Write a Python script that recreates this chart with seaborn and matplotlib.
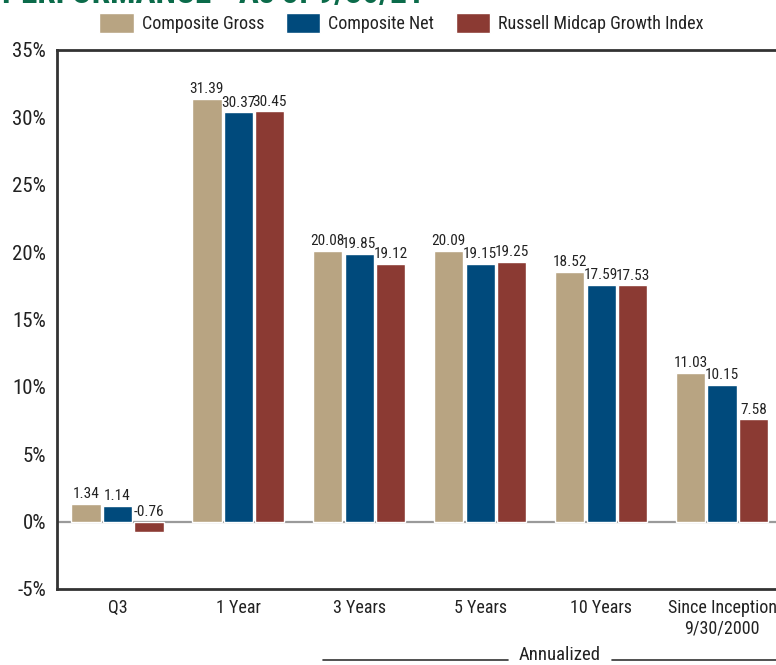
import matplotlib
matplotlib.use("Agg")
import matplotlib.pyplot as plt
import seaborn as sns
import pandas as pd
from matplotlib.lines import Line2D
from matplotlib import font_manager as fm

periods = ["Q3", "1 Year", "3 Years", "5 Years", "10 Years", "Since Inception\n9/30/2000"]
series = ["Composite Gross", "Composite Net", "Russell Midcap Growth Index"]
gross = [1.34, 31.39, 20.08, 20.09, 18.52, 11.03]
net = [1.14, 30.37, 19.85, 19.15, 17.59, 10.15]
russell = [-0.76, 30.45, 19.12, 19.25, 17.53, 7.58]
colors = ["#b8a482", "#004a7c", "#8b3a33"]
yticks = [-5, 0, 5, 10, 15, 20, 25, 30, 35]

rows = []
for s, vals in zip(series, [gross, net, russell]):
    for p, v in zip(periods, vals):
        rows.append({"period": p, "series": s, "value": v})
df = pd.DataFrame(rows)

sns.set_style("white")
names = {f.name for f in fm.fontManager.ttflist}
fam = None
for cand in ["Liberation Sans Narrow", "Roboto Condensed", "Open Sans Condensed", "DejaVu Sans Condensed"]:
    if cand in names:
        fam = cand
        break
if fam is None:
    fam = "DejaVu Sans"
    plt.rcParams["font.stretch"] = "condensed"
plt.rcParams["font.family"] = [fam, "DejaVu Sans"]

fig = plt.figure(figsize=(7.76, 6.65), dpi=100)
ax = fig.add_axes([57 / 776, 1 - 589 / 665, (782.5 - 57) / 776, (589 - 50) / 665])

sns.barplot(data=df, x="period", y="value", hue="series", order=periods,
            hue_order=series, palette=colors, saturation=1, width=0.78,
            gap=0.07, ax=ax, legend=True)

ax.set_xlim(-0.5, 5.5)
ax.set_ylim(-5, 35)
ax.set_yticks(yticks)
ax.set_yticklabels([f"{t}%" for t in yticks], fontsize=15, color="#222222")
ax.tick_params(axis="x", labelsize=13, colors="#222222", length=0, pad=7)
ax.tick_params(axis="y", length=0, pad=8)
ax.set_xlabel("")
ax.set_ylabel("")
ax.axhline(0, color="#9a9a9a", lw=1.6, zorder=0.5)
for sp in ["left", "top", "bottom", "right"]:
    ax.spines[sp].set_color("#333333")
    ax.spines[sp].set_linewidth(2)

for cont in ax.containers:
    labels = [f"{v:.2f}" for v in cont.datavalues]
    for bar, lab, v in zip(cont, labels, cont.datavalues):
        x = bar.get_x() + bar.get_width() / 2
        y = max(v, 0)
        ax.annotate(lab, (x, y), xytext=(0, 2), textcoords="offset points",
                    ha="center", va="bottom", fontsize=11, color="#222222")

handles, labs = ax.get_legend_handles_labels()
ax.get_legend().remove()
fig.legend(handles, labs, loc="upper left", bbox_to_anchor=(92 / 776, 1 - 6 / 665),
           ncol=3, frameon=False, fontsize=13, handlelength=1.9, handleheight=1.35,
           handletextpad=0.45, columnspacing=1.2, borderaxespad=0, labelcolor="#222222")

fig.text(2 / 776, 1 - 3 / 665, "PERFORMANCE - As of 9/30/21", fontsize=24,
         fontweight="bold", color="#0b6b4a", ha="left", va="baseline")

fig.text(560 / 776, 1 - 655 / 665, "Annualized", fontsize=13.5, color="#222222",
         ha="center", va="center")
fig.add_artist(Line2D([323 / 776, 508 / 776], [1 - 660 / 665] * 2, color="#333333", lw=1.2))
fig.add_artist(Line2D([612 / 776, 776 / 776], [1 - 660 / 665] * 2, color="#333333", lw=1.2))

fig.savefig("out.png", dpi=100)
